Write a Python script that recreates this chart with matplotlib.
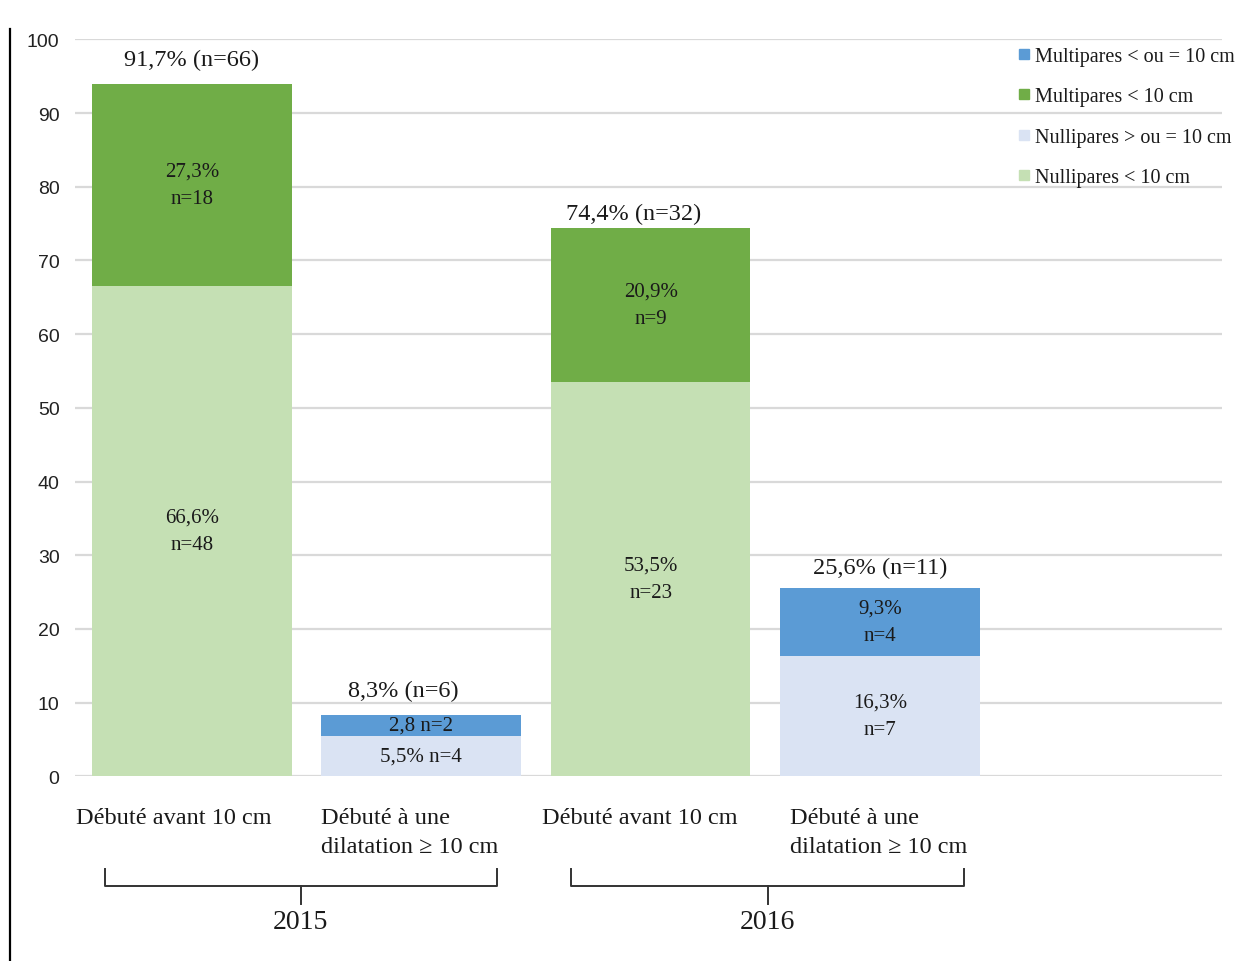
import matplotlib
matplotlib.use("Agg")
import matplotlib.pyplot as plt
from matplotlib.lines import Line2D
from matplotlib.transforms import blended_transform_factory

# ---------------- data ----------------
categories = ["Débuté avant 10 cm", "Débuté à une\ndilatation ≥ 10 cm",
              "Débuté avant 10 cm", "Débuté à une\ndilatation ≥ 10 cm"]
years = ["2015", "2016"]
# lower segment (Nullipares) and upper segment (Multipares) values, in %
lower_vals = [66.6, 5.5, 53.5, 16.3]
upper_vals = [27.3, 2.8, 20.9, 9.3]
lower_labels = ["66,6%\nn=48", "5,5% n=4", "53,5%\nn=23", "16,3%\nn=7"]
upper_labels = ["27,3%\nn=18", "2,8 n=2", "20,9%\nn=9", "9,3%\nn=4"]
total_labels = ["91,7% (n=66)", "8,3% (n=6)", "74,4% (n=32)", "25,6% (n=11)"]
legend_labels = ["Multipares < ou = 10 cm", "Multipares < 10 cm",
                 "Nullipares > ou = 10 cm", "Nullipares < 10 cm"]
yticks = [0, 10, 20, 30, 40, 50, 60, 70, 80, 90, 100]

# ---------------- style ----------------
C_DGREEN = "#70ad47"
C_LGREEN = "#c5e0b4"
C_BLUE = "#5b9bd5"
C_LBLUE = "#dae3f3"
lower_colors = [C_LGREEN, C_LBLUE, C_LGREEN, C_LBLUE]
upper_colors = [C_DGREEN, C_BLUE, C_DGREEN, C_BLUE]
SERIF = "Liberation Serif"
SANS = "Liberation Sans"
TXT = "#1a1a1a"
total_offsets = [(0, 10), (-13, 10), (-12, 3), (0, 7)]      # points
cat_offsets = [-13, -8, -8, -1]                             # points
group_shift = [-0.025, 0.01]                                # data units

fig = plt.figure(figsize=(12.48, 9.62), dpi=100)
ax = fig.add_axes([0.060, 0.192, 0.919, 0.766])

pos = list(range(len(categories)))
width = 0.87

ax.set_ylim(0, 100)
ax.set_xlim(-0.51, 4.49)
ax.set_yticks(yticks)
ax.grid(axis="y", color="#d9d9d9", linewidth=1.6, zorder=0)
ax.set_axisbelow(True)
for s in ax.spines.values():
    s.set_visible(False)
ax.tick_params(axis="y", length=0, pad=11, labelsize=14, labelcolor="#222222")
for t in ax.get_yticklabels():
    t.set_fontfamily(SANS)

ax.bar(pos, lower_vals, width=width, color=lower_colors, zorder=2)
ax.bar(pos, upper_vals, width=width, bottom=lower_vals, color=upper_colors, zorder=2)

for i in pos:
    lo = lower_vals[i]
    up = upper_vals[i]
    ax.text(i, lo / 2, lower_labels[i], ha="center", va="center",
            fontsize=15, family=SERIF, color=TXT, linespacing=1.6, zorder=3)
    ax.text(i, lo + up / 2, upper_labels[i], ha="center", va="center",
            fontsize=15, family=SERIF, color=TXT, linespacing=1.6, zorder=3)
    ax.annotate(total_labels[i], (i, lo + up), xytext=total_offsets[i],
                textcoords="offset points", ha="center", va="bottom",
                fontsize=17.5, family=SERIF, color=TXT)

# category labels
ax.set_xticks(pos)
ax.set_xticklabels([])
ax.tick_params(axis="x", length=0)
for i in pos:
    ax.annotate(categories[i], (i, 0), xycoords=("data", "axes fraction"),
                xytext=(cat_offsets[i], -22), textcoords="offset points",
                ha="center", va="top", multialignment="left",
                fontsize=17.5, family=SERIF, color=TXT, linespacing=1.5)

# group brackets
tr = blended_transform_factory(ax.transData, fig.transFigure)
y_top, y_mid, y_bot, y_txt = 0.0956, 0.078, 0.0593, 0.0415
half = 0.855
for g, yr in enumerate(years):
    c = (pos[2 * g] + pos[2 * g + 1]) / 2 + group_shift[g]
    x0, x1 = c - half, c + half
    fig.add_artist(Line2D([x0, x0, x1, x1], [y_top, y_mid, y_mid, y_top],
                          transform=tr, color="#333333", linewidth=1.4))
    fig.add_artist(Line2D([c, c], [y_mid, y_bot], transform=tr,
                          color="#333333", linewidth=1.4))
    fig.text(c, y_txt, yr, transform=tr, ha="center", va="center",
             fontsize=20, family=SERIF, color=TXT)

# left border line
fig.add_artist(Line2D([0.008, 0.008], [0.0, 0.969], transform=fig.transFigure,
                      color="black", linewidth=1.6))

# legend
leg_colors = [C_BLUE, C_DGREEN, C_LBLUE, C_LGREEN]
handles = [Line2D([], [], marker="s", linestyle="none", markersize=7,
                  markerfacecolor=c, markeredgecolor=c) for c in leg_colors]
fig.legend(handles, legend_labels, loc="upper left",
           bbox_to_anchor=(1008 / 1248, 1 - 38 / 962),
           frameon=False, borderpad=0, handlelength=0.6, handletextpad=0.25,
           labelspacing=1.05, prop={"family": SERIF, "size": 14.5},
           labelcolor=TXT)

fig.savefig("out.png", dpi=100)
